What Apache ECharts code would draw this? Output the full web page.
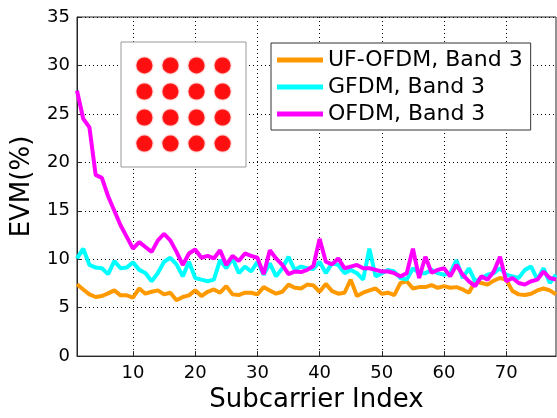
<!DOCTYPE html>
<html>
<head>
<meta charset="utf-8">
<script src="https://cdn.jsdelivr.net/npm/echarts@6/dist/echarts.min.js"></script>
<style>
html, body { margin: 0; padding: 0; background: #fff; }
#chart { width: 557px; height: 418px; }
</style>
</head>
<body>
<div id="chart"></div>
<script>
// EVM per subcarrier, index 1..78
var ufofdm = [7.42, 6.88, 6.37, 6.1, 6.2, 6.47, 6.78, 6.27, 6.27, 6.03,
  6.98, 6.44, 6.64, 6.78, 6.37, 6.54, 5.77, 6.1, 6.27, 6.8,
  6.2, 6.64, 6.88, 6.54, 7.22, 6.37, 6.3, 6.54, 6.54, 6.37,
  7.12, 6.78, 6.44, 6.64, 7.38, 7.05, 6.98, 7.38, 7.3, 6.64,
  7.45, 6.71, 6.44, 6.54, 7.89, 6.2, 6.54, 6.78, 6.98, 6.44,
  6.54, 6.3, 7.55, 7.72, 6.98, 7.12, 7.12, 7.32, 7.05, 7.22,
  7.05, 7.12, 6.88, 6.54, 7.72, 7.55, 7.38, 7.79, 8.06, 7.89,
  6.71, 6.37, 6.3, 6.44, 6.78, 6.98, 6.78, 6.37];
var gfdm = [10.08, 11.09, 9.41, 9.14, 9.07, 8.46, 9.81, 9.07, 9.14, 9.68,
  8.9, 8.57, 7.72, 8.57, 9.74, 10.15, 9.47, 8.23, 9.74, 8.06,
  7.89, 7.72, 7.89, 9.9, 9.07, 10.08, 8.57, 9.24, 8.73, 9.74,
  8.4, 9.58, 8.23, 9.07, 10.25, 8.9, 9.24, 9.07, 9.0, 9.74,
  8.56, 9.58, 9.41, 8.56, 8.9, 8.56, 7.89, 11.09, 8.23, 8.56,
  8.9, 8.73, 8.06, 7.89, 9.07, 8.56, 8.56, 8.9, 8.56, 8.4,
  8.56, 9.91, 8.06, 9.07, 7.72, 8.06, 8.4, 8.56, 9.07, 8.4,
  8.23, 8.06, 8.9, 9.24, 7.89, 9.07, 7.55, 8.4];
var ofdm = [27.4, 24.5, 23.6, 18.7, 18.4, 16.5, 15.0, 13.5, 12.3, 11.09,
  11.77, 11.26, 10.76, 11.94, 12.61, 11.94, 10.76, 9.41, 10.59, 11.0,
  10.15, 10.35, 10.08, 10.93, 9.41, 10.35, 9.81, 10.59, 10.35, 10.15,
  8.46, 10.93, 10.08, 9.41, 8.46, 8.73, 8.67, 8.9, 9.3, 12.1,
  9.74, 9.47, 10.08, 9.07, 9.24, 9.41, 9.07, 9.07, 8.9, 8.73,
  8.73, 8.56, 8.23, 8.56, 11.09, 8.06, 10.25, 8.6, 8.9, 9.07,
  8.23, 9.41, 8.4, 7.72, 7.22, 8.23, 7.89, 8.73, 10.25, 7.72,
  8.06, 7.55, 7.38, 7.72, 7.89, 8.73, 8.06, 7.9];
var seriesNames = ['UF-OFDM, Band 3', 'GFDM, Band 3', 'OFDM, Band 3'];
var seriesColors = ['#ff9900', '#00ffff', '#ff00ff'];
var xTicks = [10, 20, 30, 40, 50, 60, 70];
// 16-QAM levels for the inset constellation
var qamLevels = [-3, -1, 1, 3];

var FONT = 'DejaVu Sans';

function toPoints(arr) {
  return arr.map(function (v, i) { return [i + 1, v]; });
}

var qamPoints = [];
qamLevels.forEach(function (re) {
  qamLevels.forEach(function (im) { qamPoints.push([re, im]); });
});

var myChart = echarts.init(document.getElementById('chart'));
var dotted = { color: '#000', type: [1, 3], width: 1 };

var option = {
  animation: false,
  backgroundColor: '#fff',
  grid: [
    { left: 77, top: 17, width: 479, height: 346, show: true,
      borderColor: '#262626', borderWidth: 1 },
    { left: 121, top: 42, width: 125, height: 125, show: true, z: 3,
      borderColor: '#999', borderWidth: 1, backgroundColor: '#fff' }
  ],
  legend: {
    orient: 'vertical',
    left: 271,
    top: 43,
    padding: [6, 8, 5, 6],
    itemGap: 5,
    itemWidth: 46,
    itemHeight: 5,
    icon: 'rect',
    borderColor: '#333',
    borderWidth: 1,
    backgroundColor: '#fff',
    textStyle: { fontFamily: FONT, fontSize: 22, color: '#000', lineHeight: 22 },
    data: seriesNames
  },
  xAxis: [
    {
      type: 'value', min: 1, max: 78,
      name: 'Subcarrier Index', nameLocation: 'middle', nameGap: 28,
      nameTextStyle: { fontFamily: FONT, fontSize: 26, color: '#000' },
      axisLine: { lineStyle: { color: '#262626' } },
      axisTick: { inside: true, length: 5, customValues: xTicks, lineStyle: { color: '#262626' } },
      axisLabel: { customValues: xTicks, fontFamily: FONT, fontSize: 18, color: '#000', margin: 8 },
      splitLine: { show: true, lineStyle: dotted }
    },
    { gridIndex: 1, type: 'value', min: -4.8, max: 4.8, show: false }
  ],
  yAxis: [
    {
      type: 'value', min: 0, max: 35, interval: 5,
      name: 'EVM(%)', nameLocation: 'middle', nameGap: 42,
      nameTextStyle: { fontFamily: FONT, fontSize: 26, color: '#000' },
      axisLine: { show: true, lineStyle: { color: '#262626' } },
      axisTick: { show: true, inside: true, length: 5, lineStyle: { color: '#262626' } },
      axisLabel: { fontFamily: FONT, fontSize: 18, color: '#000', margin: 7 },
      splitLine: { show: true, lineStyle: dotted }
    },
    { gridIndex: 1, type: 'value', min: -4.8, max: 4.8, show: false }
  ],
  series: [
    { name: seriesNames[0], data: toPoints(ufofdm) },
    { name: seriesNames[1], data: toPoints(gfdm) },
    { name: seriesNames[2], data: toPoints(ofdm) }
  ].map(function (s, k) {
    return {
      name: s.name, type: 'line', data: s.data, symbol: 'none',
      color: seriesColors[k],
      lineStyle: { width: 4, color: seriesColors[k] }
    };
  }).concat([{
    type: 'scatter', xAxisIndex: 1, yAxisIndex: 1, z: 5,
    data: qamPoints, symbolSize: 16,
    itemStyle: { color: '#ff0000', shadowBlur: 2, shadowColor: '#ff2020' }
  }])
};
myChart.setOption(option);
</script>
</body>
</html>
